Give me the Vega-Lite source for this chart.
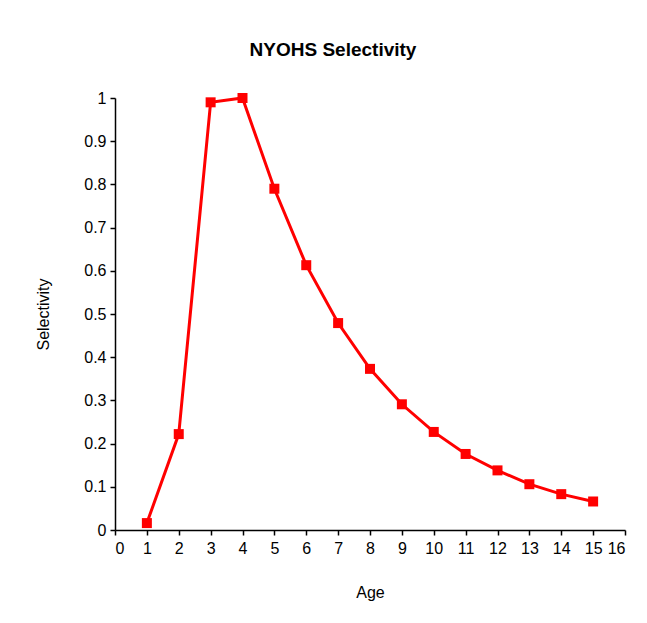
{
  "$schema": "https://vega.github.io/schema/vega-lite/v6.json",
  "autosize": "none",
  "width": 510,
  "height": 432,
  "padding": {"left": 115, "top": 98, "right": 22, "bottom": 93},
  "background": "white",
  "title": {"text": "NYOHS Selectivity", "font": "Liberation Sans", "fontSize": 19, "fontWeight": "bold", "color": "black", "anchor": "middle", "dx": -37, "offset": 30},
  "config": {"view": {"stroke": null}, "axis": {"grid": false, "domainColor": "black", "tickColor": "black", "labelColor": "black", "titleColor": "black", "labelFont": "Liberation Sans", "titleFont": "Liberation Sans", "labelFontSize": 16, "titleFontSize": 16, "titleFontWeight": "normal", "tickSize": 5, "domainWidth": 1.5, "tickWidth": 1.5}},
  "data": {"values": [
    {"Age": 1, "Selectivity": 0.016},
    {"Age": 2, "Selectivity": 0.222},
    {"Age": 3, "Selectivity": 0.99},
    {"Age": 4, "Selectivity": 1.0},
    {"Age": 5, "Selectivity": 0.79},
    {"Age": 6, "Selectivity": 0.613},
    {"Age": 7, "Selectivity": 0.479},
    {"Age": 8, "Selectivity": 0.373},
    {"Age": 9, "Selectivity": 0.291},
    {"Age": 10, "Selectivity": 0.227},
    {"Age": 11, "Selectivity": 0.176},
    {"Age": 12, "Selectivity": 0.138},
    {"Age": 13, "Selectivity": 0.106},
    {"Age": 14, "Selectivity": 0.083},
    {"Age": 15, "Selectivity": 0.066}
  ]},
  "mark": {"type": "line", "color": "#ff0000", "strokeWidth": 3, "point": {"shape": "square", "size": 100, "filled": true, "color": "#ff0000", "opacity": 1}},
  "encoding": {
    "x": {"field": "Age", "type": "quantitative", "scale": {"domain": [0, 16], "nice": false}, "axis": {"values": [0,1,2,3,4,5,6,7,8,9,10,11,12,13,14,15,16], "format": "d", "labelPadding": 5, "titlePadding": 28}},
    "y": {"field": "Selectivity", "type": "quantitative", "scale": {"domain": [0, 1], "nice": false}, "axis": {"values": [0,0.1,0.2,0.3,0.4,0.5,0.6,0.7,0.8,0.9,1], "format": "~g", "labelPadding": 4, "titlePadding": 32}}
  }
}
